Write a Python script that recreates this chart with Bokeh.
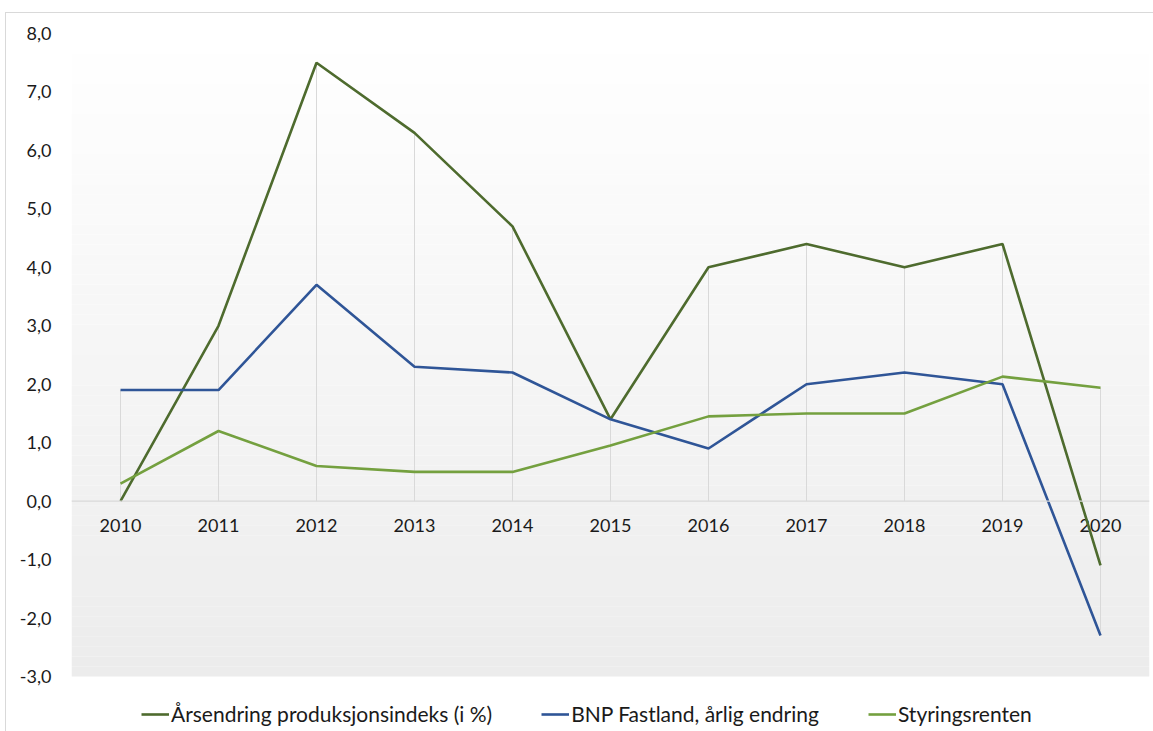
from bokeh.plotting import figure
from bokeh.models import Range1d, FixedTicker, CustomJSTickFormatter, Span, Legend, LegendItem
from bokeh.core.properties import value
from bokeh.embed import file_html
from bokeh.resources import INLINE

# --- data -------------------------------------------------------------
years = [2010, 2011, 2012, 2013, 2014, 2015, 2016, 2017, 2018, 2019, 2020]
produksjonsindeks = [0.0, 3.0, 7.5, 6.3, 4.7, 1.4, 4.0, 4.4, 4.0, 4.4, -1.1]
bnp_fastland = [1.9, 1.9, 3.7, 2.3, 2.2, 1.4, 0.9, 2.0, 2.2, 2.0, -2.3]
styringsrenten = [0.3, 1.2, 0.6, 0.5, 0.5, 0.95, 1.45, 1.5, 1.5, 2.13, 1.94]

series_names = ["Årsendring produksjonsindeks (i %)",
                "BNP Fastland, årlig endring",
                "Styringsrenten"]
y_ticks = [-3, -2, -1, 0, 1, 2, 3, 4, 5, 6, 7, 8]

FONT = "Lato"
TEXT = "#1a1a1a"
GRID = "#d9d9d9"

# the value axis covers 643 px; the frame continues 56 px lower to hold the legend
PLOT_PX = 643
LEGEND_PX = 56
px_per_unit = PLOT_PX / (y_ticks[-1] - y_ticks[0])
y_lo = y_ticks[0] - LEGEND_PX / px_per_unit

p = figure(width=1148, height=719, output_backend="svg", toolbar_location=None,
           x_range=Range1d(years[0] - 0.5, years[-1] + 0.5),
           y_range=Range1d(y_lo, y_ticks[-1]),
           min_border_left=65, min_border_right=5,
           min_border_top=20, min_border_bottom=0)
p.margin = (12, 0, 0, 5)
p.styles = {"border-top": "1px solid #d9d9d9", "border-left": "1px solid #d9d9d9"}
p.outline_line_color = None
p.background_fill_color = "white"
p.border_fill_color = "white"
p.grid.visible = False
p.xaxis.visible = False

# soft vertical gradient behind the plot area (white at top, light grey at bottom)
n_bands = 64
y0, y1 = y_ticks[0], y_ticks[-1]
step = (y1 - y0) / n_bands
bottoms, tops, colors = [], [], []
for i in range(n_bands):
    b = y0 + i * step
    frac = (b + step / 2 - y0) / (y1 - y0)   # 0 at bottom, 1 at top
    g = int(round(236 + (255 - 236) * frac))
    bottoms.append(b)
    tops.append(b + step)
    colors.append("#%02x%02x%02x" % (g, g, g))
p.quad(left=years[0] - 0.5, right=years[-1] + 0.5, bottom=bottoms, top=tops,
       fill_color=colors, line_color=None, level="underlay")

# zero line
p.add_layout(Span(location=0, dimension="width", line_color=GRID, line_width=1.2))

# drop lines from the highest to the lowest point of each year
all_series = [produksjonsindeks, bnp_fastland, styringsrenten]
hi = [max(0, *vals) for vals in zip(*all_series)]
lo = [min(0, *vals) for vals in zip(*all_series)]
p.segment(x0=years, x1=years, y0=lo, y1=hi, line_color=GRID, line_width=1)

# y axis
yax = p.yaxis[0]
yax.ticker = FixedTicker(ticks=y_ticks)
yax.formatter = CustomJSTickFormatter(code="return tick.toFixed(1).replace('.', ',');")
yax.axis_line_color = None
yax.major_tick_line_color = None
yax.minor_tick_line_color = None
yax.major_label_standoff = 14
yax.major_label_text_font = FONT
yax.major_label_text_font_size = "18px"
yax.major_label_text_color = TEXT

# year labels sitting just under the zero line
p.text(x=years, y=[0] * len(years), text=[str(y) for y in years],
       y_offset=24, text_align="center", text_baseline="middle",
       text_font=value(FONT), text_font_size="18px", text_color=TEXT)

# series
colors_s = ["#4E6B2E", "#2F5597", "#74A03F"]
renderers = []
for vals, col in zip(all_series, colors_s):
    renderers.append(p.line(years, vals, line_color=col, line_width=2.6))

legend = Legend(items=[LegendItem(label=n, renderers=[r])
                       for n, r in zip(series_names, renderers)],
                orientation="horizontal", location=(70, 6),
                background_fill_alpha=0, border_line_color=None,
                label_text_font=FONT, label_text_font_size="21px",
                label_text_color=TEXT, glyph_width=28, glyph_height=20,
                label_standoff=2, spacing=49, padding=5, margin=0)
p.add_layout(legend, "center")

open("out.html", "w").write(file_html(p, INLINE))
